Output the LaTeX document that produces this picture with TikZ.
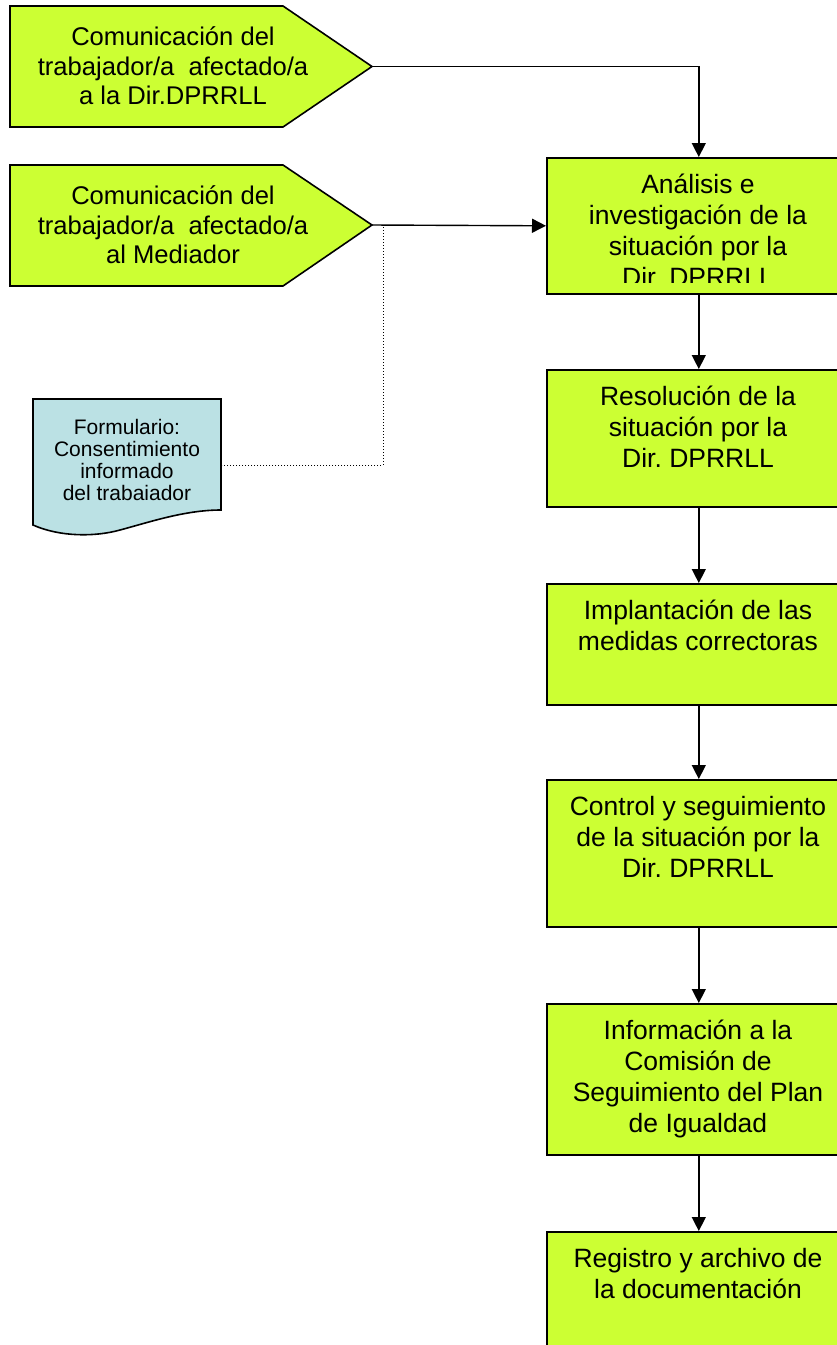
\documentclass[tikz,border=0pt]{standalone}
\usepackage{fontspec}
\setmainfont{Liberation Sans}
\usetikzlibrary{arrows.meta}
\definecolor{lime}{RGB}{204,255,51}
\definecolor{docblue}{RGB}{187,225,228}
\frenchspacing
\begin{document}
\begin{tikzpicture}[x=1pt,y=-1pt,
  shapeline/.style={draw=black,line width=1.6pt,fill=lime,line join=miter},
  procbox/.style={draw=black,line width=1.6pt,fill=lime,minimum width=304pt,inner sep=0pt,anchor=north west},
  boxtext/.style={anchor=north,align=center,inner sep=0pt,font=\fontsize{26.5}{31}\selectfont},
  penttext/.style={align=center,inner sep=0pt,font=\fontsize{25.6}{29.5}\selectfont},
  doctext/.style={align=center,inner sep=0pt,font=\fontsize{21}{21.7}\selectfont},
  arrowline/.style={line width=1.4pt,-{Triangle[length=14pt,width=14pt]}},
  dotline/.style={line width=1pt,dotted},
]
\useasboundingbox (0,0) rectangle (837,1345);
\clip (0,0) rectangle (837,1345);

% input pentagons
\draw[shapeline] (10,6) -- (283,6) -- (372,66.5) -- (283,127) -- (10,127) -- cycle;
\coordinate (p1tip) at (372,66.5);
\node[penttext] (p1) at (173,66) {Comunicación del\\trabajador/a\ \ afectado/a\\a la Dir.DPRRLL};

\draw[shapeline] (10,165) -- (283,165) -- (372,225) -- (283,286) -- (10,286) -- cycle;
\coordinate (p2tip) at (372,225);
\node[penttext] (p2) at (173,225) {Comunicación del\\trabajador/a\ \ afectado/a\\al Mediador};

% document
\draw[line width=1.6pt,fill=docblue] (33,399) -- (221,399) -- (221,510)
  .. controls (185,510) and (150,522) .. (120,530)
  .. controls (95,537) and (60,537) .. (33,525) -- cycle;
\coordinate (docR) at (222,465);
\node[doctext] (doc) at (127,460) {Formulario:\\Consentimiento\\informado\\del trabaiador};

% process boxes
\node[procbox,minimum height=136pt] (b1) at (546,157) {};
\node[procbox,minimum height=137pt] (b2) at (546,369) {};
\node[procbox,minimum height=121pt] (b3) at (546,583) {};
\node[procbox,minimum height=147pt] (b4) at (546,779) {};
\node[procbox,minimum height=151pt] (b5) at (546,1003) {};
\node[procbox,minimum height=160pt] (b6) at (546,1231) {};

\begin{scope}
\clip (546,157) rectangle (850,282);
\node[boxtext] (t1) at (698,172) {\strut Análisis e\\investigación de la\\situación por la\\Dir. DPRRLL};
\end{scope}
\node[boxtext] (t2) at (698,384) {\strut Resolución de la\\situación por la\\Dir. DPRRLL};
\node[boxtext] (t3) at (698,598) {\strut Implantación de las\\medidas correctoras};
\node[boxtext] (t4) at (698,794) {\strut Control y seguimiento\\de la situación por la\\Dir. DPRRLL};
\node[boxtext] (t5) at (698,1018) {\strut Información a la\\Comisión de\\Seguimiento del Plan\\de Igualdad};
\node[boxtext] (t6) at (698,1246) {\strut Registro y archivo de\\la documentación};

% connectors
\draw[arrowline] (p1tip) -| (b1.north);
\draw[arrowline] (p2tip) -- (b1.west);
\coordinate (dj) at (383,227);
\draw[dotline] (dj) |- (docR);
\draw[arrowline] (b1.south) -- (b2.north);
\draw[arrowline] (b2.south) -- (b3.north);
\draw[arrowline] (b3.south) -- (b4.north);
\draw[arrowline] (b4.south) -- (b5.north);
\draw[arrowline] (b5.south) -- (b6.north);
\end{tikzpicture}
\end{document}
